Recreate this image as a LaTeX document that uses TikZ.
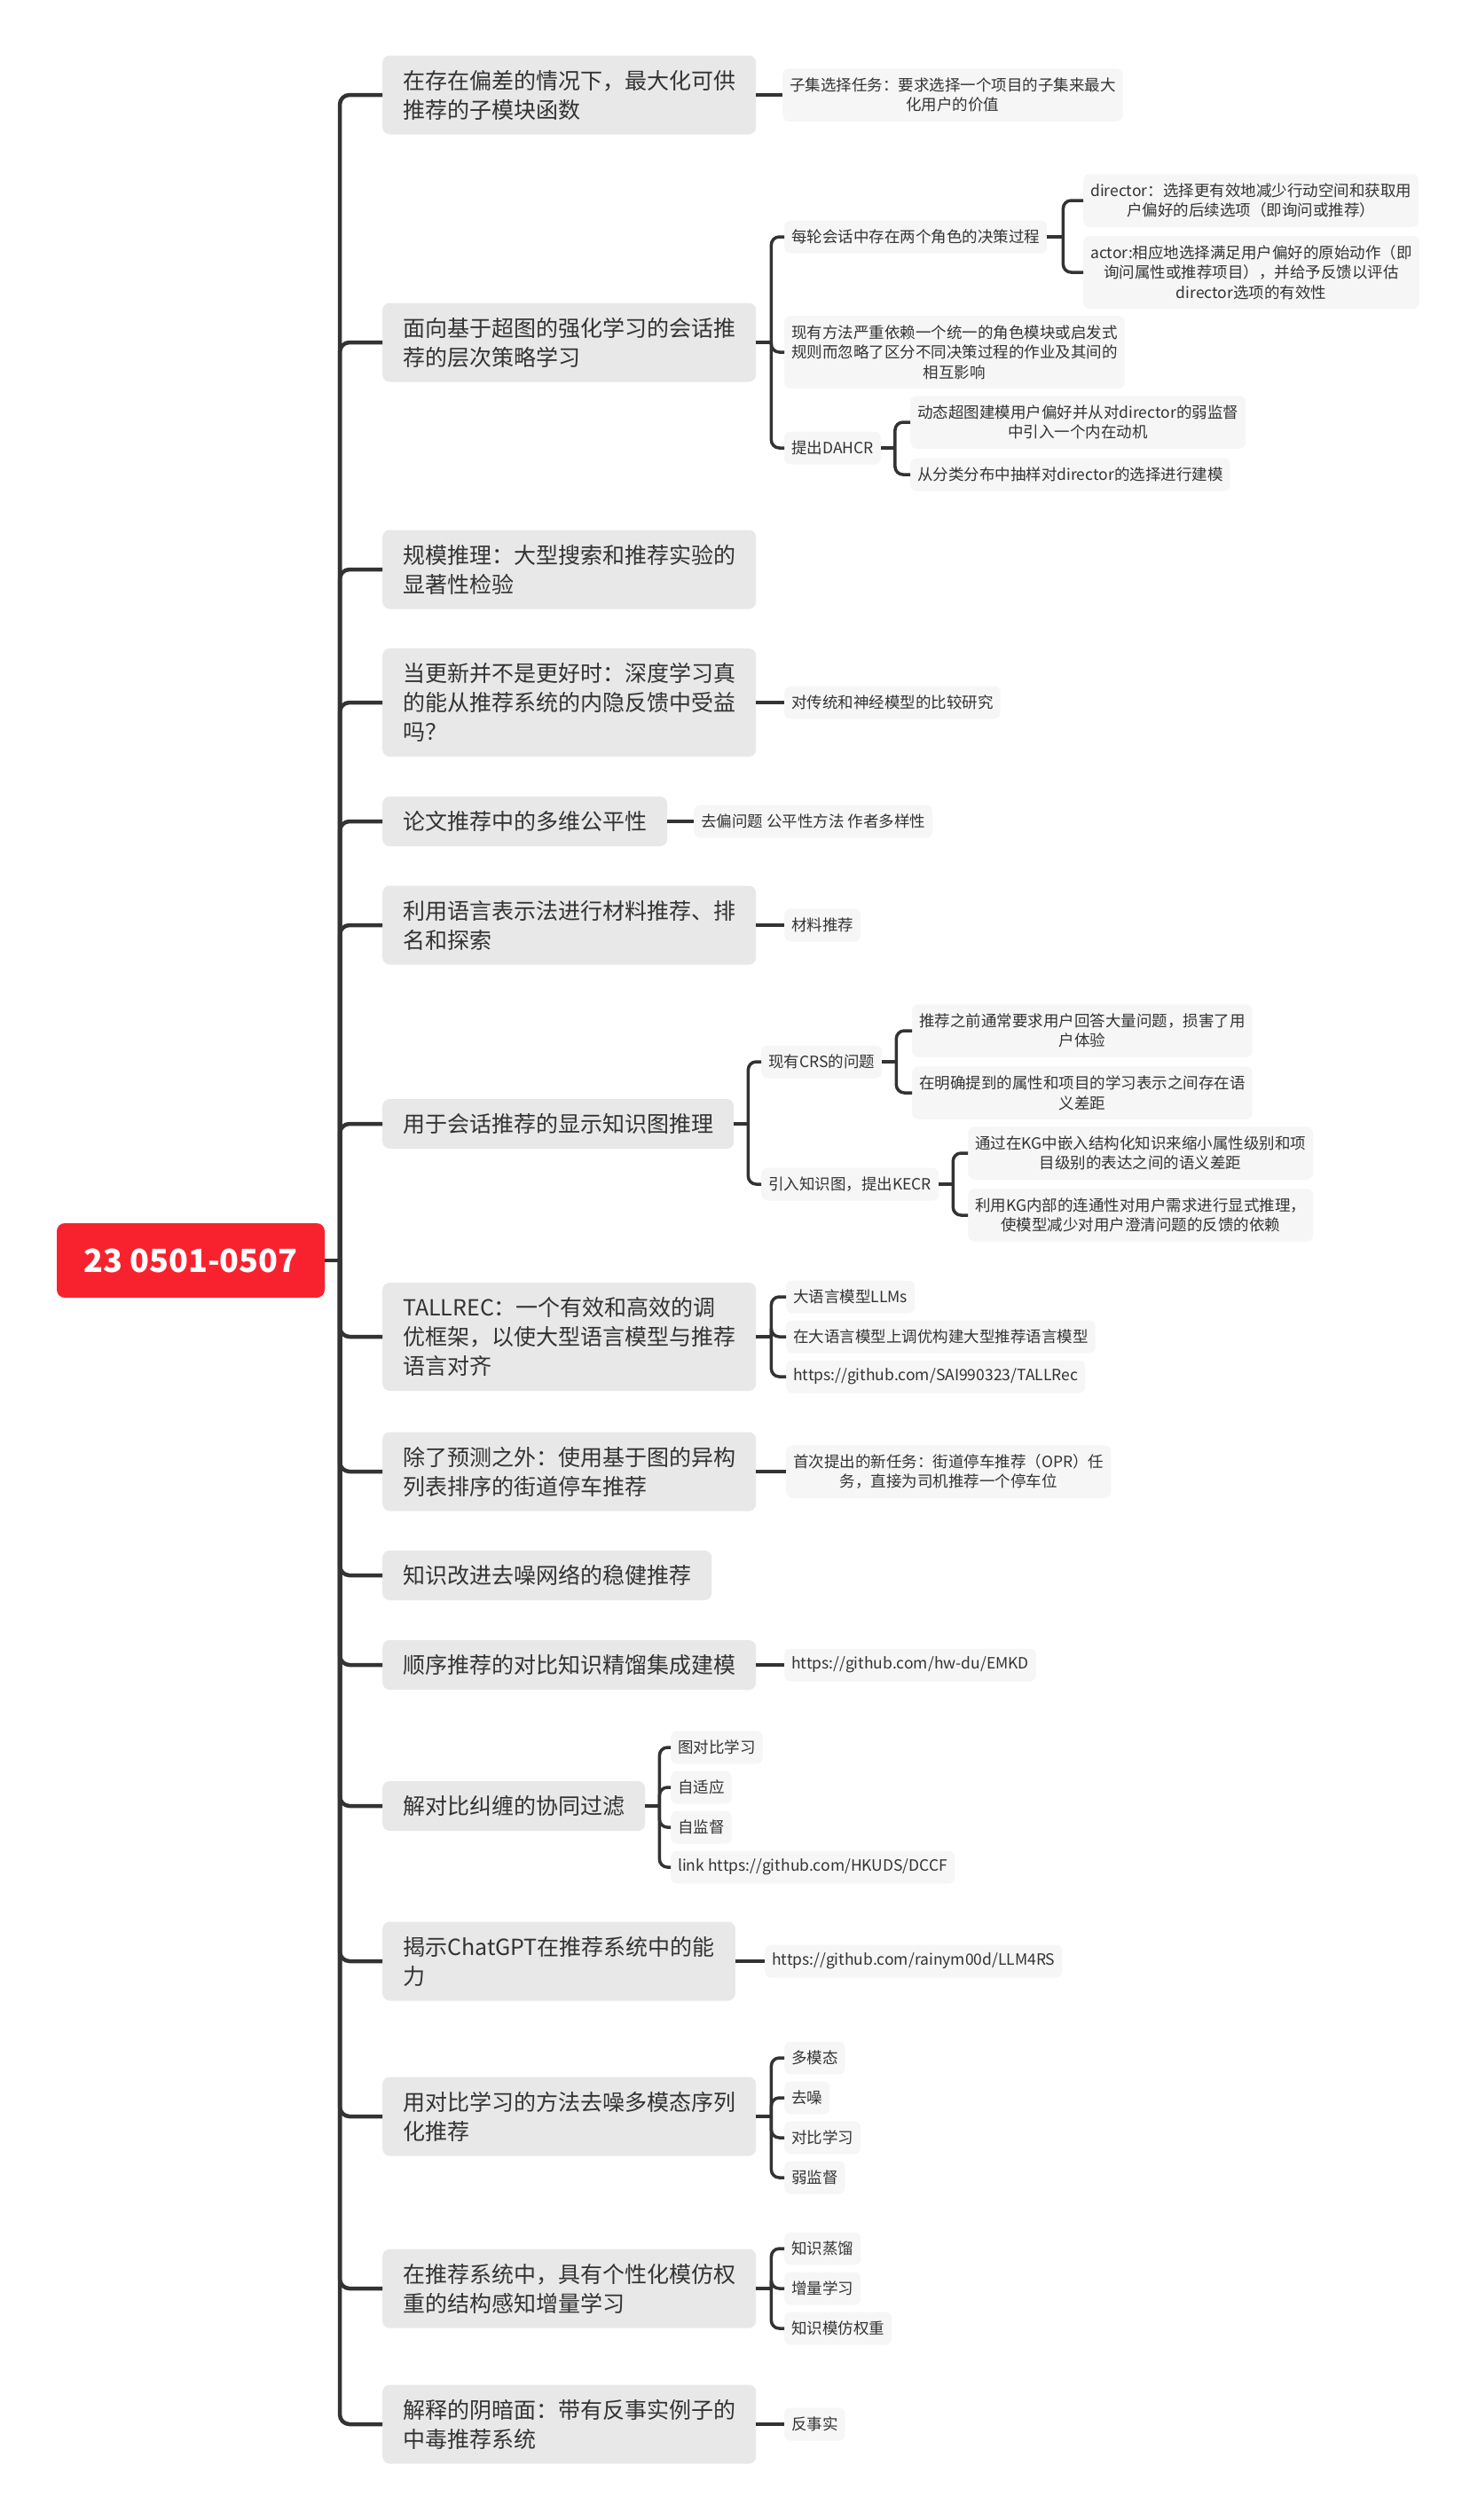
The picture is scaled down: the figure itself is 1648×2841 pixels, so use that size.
\documentclass[tikz,border=0pt]{standalone}
\usepackage{fontspec}
\setmainfont{Noto Sans CJK SC}
\definecolor{linec}{HTML}{333333}
\definecolor{mainfill}{HTML}{E8E8E8}
\definecolor{subfill}{HTML}{F6F6F6}
\definecolor{txt}{HTML}{333333}
\definecolor{rootred}{HTML}{F8222F}
\begin{document}
\begin{tikzpicture}[x=1pt,y=-1pt,
  rootbox/.style={fill=rootred, rounded corners=9pt, minimum width=302pt, minimum height=84pt, inner sep=0pt, text=white, font=\fontsize{36}{40}\selectfont\bfseries},
  mainbox/.style={fill=mainfill, rounded corners=8pt, inner xsep=23pt, inner ysep=0pt, align=left, anchor=west, text=txt, font=\fontsize{25}{33}\selectfont},
  mh1/.style={minimum height=56pt},
  mh2/.style={minimum height=89pt},
  mh3/.style={minimum height=122pt},
  subbox/.style={fill=subfill, rounded corners=7pt, inner xsep=8pt, inner ysep=0pt, align=center, anchor=west, text=txt, font=\fontsize{17.5}{22.5}\selectfont},
  sh1/.style={minimum height=37pt},
  sh2/.style={minimum height=59.5pt},
  sh3/.style={minimum height=82pt},
  lzero/.style={draw=linec, line width=4.5pt, rounded corners=11pt},
  stub/.style={draw=linec, line width=4.5pt},
  lone/.style={draw=linec, line width=3.5pt, rounded corners=9pt}
]
\useasboundingbox (0,0) rectangle (1648,2841);

% root
\node[rootbox] (R) at (215,1421) {23 0501-0507};

% main topics
\node[mainbox,mh2] (M1) at (431,107) {在存在偏差的情况下，最大化可供\\推荐的子模块函数};
\node[mainbox,mh2] (M2) at (431,386) {面向基于超图的强化学习的会话推\\荐的层次策略学习};
\node[mainbox,mh2] (M3) at (431,642) {规模推理：大型搜索和推荐实验的\\显著性检验};
\node[mainbox,mh3] (M4) at (431,792) {当更新并不是更好时：深度学习真\\的能从推荐系统的内隐反馈中受益\\吗？};
\node[mainbox,mh1] (M5) at (431,926) {论文推荐中的多维公平性};
\node[mainbox,mh2] (M6) at (431,1043) {利用语言表示法进行材料推荐、排\\名和探索};
\node[mainbox,mh1] (M7) at (431,1267) {用于会话推荐的显示知识图推理};
\node[mainbox,mh3] (M8) at (431,1507) {TALLREC：一个有效和高效的调\\优框架，以使大型语言模型与推荐\\语言对齐};
\node[mainbox,mh2] (M9) at (431,1659) {除了预测之外：使用基于图的异构\\列表排序的街道停车推荐};
\node[mainbox,mh1] (M10) at (431,1776) {知识改进去噪网络的稳健推荐};
\node[mainbox,mh1] (M11) at (431,1877) {顺序推荐的对比知识精馏集成建模};
\node[mainbox,mh1] (M12) at (431,2036) {解对比纠缠的协同过滤};
\node[mainbox,mh2] (M13) at (431,2211) {揭示ChatGPT在推荐系统中的能\\力};
\node[mainbox,mh2] (M14) at (431,2386) {用对比学习的方法去噪多模态序列\\化推荐};
\node[mainbox,mh2] (M15) at (431,2580) {在推荐系统中，具有个性化模仿权\\重的结构感知增量学习};
\node[mainbox,mh2] (M16) at (431,2733) {解释的阴暗面：带有反事实例子的\\中毒推荐系统};

% children
\node[subbox,sh2] (C1) at (882,107) {子集选择任务：要求选择一个项目的子集来最大\\化用户的价值};

\node[subbox,sh1] (C2a) at (884,267) {每轮会话中存在两个角色的决策过程};
\node[subbox,sh2] (C2a1) at (1221,226) {director：选择更有效地减少行动空间和获取用\\户偏好的后续选项（即询问或推荐）};
\node[subbox,sh3] (C2a2) at (1221,307) {actor:相应地选择满足用户偏好的原始动作（即\\询问属性或推荐项目），并给予反馈以评估\\director选项的有效性};
\node[subbox,sh3] (C2b) at (884,397) {现有方法严重依赖一个统一的角色模块或启发式\\规则而忽略了区分不同决策过程的作业及其间的\\相互影响};
\node[subbox,sh1] (C2c) at (884,505) {提出DAHCR};
\node[subbox,sh2] (C2c1) at (1026,476) {动态超图建模用户偏好并从对director的弱监督\\中引入一个内在动机};
\node[subbox,sh1] (C2c2) at (1026,535) {从分类分布中抽样对director的选择进行建模};

\node[subbox,sh1] (C4) at (884,792) {对传统和神经模型的比较研究};
\node[subbox,sh1] (C5) at (782,926) {去偏问题 公平性方法 作者多样性};
\node[subbox,sh1] (C6) at (884,1043) {材料推荐};

\node[subbox,sh1] (C7a) at (858,1197) {现有CRS的问题};
\node[subbox,sh2] (C7a1) at (1028,1162) {推荐之前通常要求用户回答大量问题，损害了用\\户体验};
\node[subbox,sh2] (C7a2) at (1028,1232) {在明确提到的属性和项目的学习表示之间存在语\\义差距};
\node[subbox,sh1] (C7b) at (858,1335) {引入知识图，提出KECR};
\node[subbox,sh2] (C7b1) at (1091,1300) {通过在KG中嵌入结构化知识来缩小属性级别和项\\目级别的表达之间的语义差距};
\node[subbox,sh2] (C7b2) at (1091,1370) {利用KG内部的连通性对用户需求进行显式推理，\\使模型减少对用户澄清问题的反馈的依赖};

\node[subbox,sh1] (C8a) at (886,1462) {大语言模型LLMs};
\node[subbox,sh1] (C8b) at (886,1507) {在大语言模型上调优构建大型推荐语言模型};
\node[subbox,sh1] (C8c) at (886,1552) {https://github.com/SAI990323/TALLRec};

\node[subbox,sh2] (C9) at (886,1659) {首次提出的新任务：街道停车推荐（OPR）任\\务，直接为司机推荐一个停车位};
\node[subbox,sh1] (C11) at (884,1877) {https://github.com/hw-du/EMKD};

\node[subbox,sh1] (C12a) at (756,1970) {图对比学习};
\node[subbox,sh1] (C12b) at (756,2015) {自适应};
\node[subbox,sh1] (C12c) at (756,2060) {自监督};
\node[subbox,sh1] (C12d) at (756,2105) {link https://github.com/HKUDS/DCCF};

\node[subbox,sh1] (C13) at (862,2211) {https://github.com/rainym00d/LLM4RS};

\node[subbox,sh1] (C14a) at (884,2320) {多模态};
\node[subbox,sh1] (C14b) at (884,2365) {去噪};
\node[subbox,sh1] (C14c) at (884,2410) {对比学习};
\node[subbox,sh1] (C14d) at (884,2455) {弱监督};

\node[subbox,sh1] (C15a) at (884,2535) {知识蒸馏};
\node[subbox,sh1] (C15b) at (884,2580) {增量学习};
\node[subbox,sh1] (C15c) at (884,2625) {知识模仿权重};

\node[subbox,sh1] (C16) at (884,2733) {反事实};

% level 0 connectors
\coordinate (sp) at (383,1421);
\draw[stub] (R.east) -- ([xshift=2pt]sp);
\foreach \i in {1,...,16} \draw[lzero] (sp) |- (M\i.west);

% single-child connectors
\draw[stub] (M1.east) -- (C1.west);
\draw[stub] (M4.east) -- (C4.west);
\draw[stub] (M5.east) -- (C5.west);
\draw[stub] (M6.east) -- (C6.west);
\draw[stub] (M9.east) -- (C9.west);
\draw[stub] (M11.east) -- (C11.west);
\draw[stub] (M13.east) -- (C13.west);
\draw[stub] (M16.east) -- (C16.west);

% bracket connectors
\coordinate (b2) at ([xshift=17pt]M2.east);
\draw[stub] (M2.east) -- ([xshift=1.5pt]b2);
\foreach \c in {C2a,C2b,C2c} \draw[lone] (b2) |- (\c.west);

\coordinate (b2a) at ([xshift=18pt]C2a.east);
\draw[stub] (C2a.east) -- ([xshift=1.5pt]b2a);
\foreach \c in {C2a1,C2a2} \draw[lone] (b2a) |- (\c.west);

\coordinate (b2c) at ([xshift=16pt]C2c.east);
\draw[stub] (C2c.east) -- ([xshift=1.5pt]b2c);
\foreach \c in {C2c1,C2c2} \draw[lone] (b2c) |- (\c.west);

\coordinate (b7) at ([xshift=16pt]M7.east);
\draw[stub] (M7.east) -- ([xshift=1.5pt]b7);
\foreach \c in {C7a,C7b} \draw[lone] (b7) |- (\c.west);

\coordinate (b7a) at ([xshift=16pt]C7a.east);
\draw[stub] (C7a.east) -- ([xshift=1.5pt]b7a);
\foreach \c in {C7a1,C7a2} \draw[lone] (b7a) |- (\c.west);

\coordinate (b7b) at ([xshift=16pt]C7b.east);
\draw[stub] (C7b.east) -- ([xshift=1.5pt]b7b);
\foreach \c in {C7b1,C7b2} \draw[lone] (b7b) |- (\c.west);

\coordinate (b8) at ([xshift=17pt]M8.east);
\draw[stub] (M8.east) -- ([xshift=1.5pt]b8);
\foreach \c in {C8a,C8b,C8c} \draw[lone] (b8) |- (\c.west);

\coordinate (b12) at ([xshift=16pt]M12.east);
\draw[stub] (M12.east) -- ([xshift=1.5pt]b12);
\foreach \c in {C12a,C12b,C12c,C12d} \draw[lone] (b12) |- (\c.west);

\coordinate (b14) at ([xshift=17pt]M14.east);
\draw[stub] (M14.east) -- ([xshift=1.5pt]b14);
\foreach \c in {C14a,C14b,C14c,C14d} \draw[lone] (b14) |- (\c.west);

\coordinate (b15) at ([xshift=17pt]M15.east);
\draw[stub] (M15.east) -- ([xshift=1.5pt]b15);
\foreach \c in {C15a,C15b,C15c} \draw[lone] (b15) |- (\c.west);
\end{tikzpicture}
\end{document}
